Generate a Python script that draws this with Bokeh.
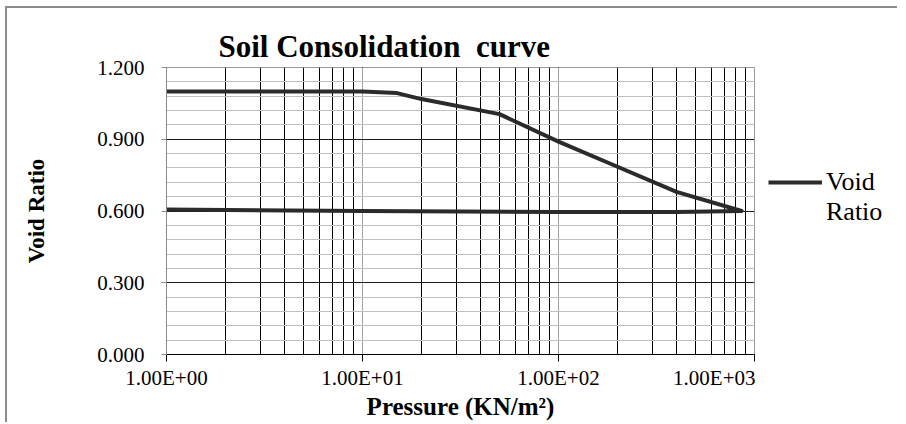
from bokeh.plotting import figure
from bokeh.layouts import row
from bokeh.models import (Range1d, LogTicker, SingleIntervalTicker, CustomJSTickFormatter,
                          PrintfTickFormatter, Legend, LegendItem)
from bokeh.embed import file_html
from bokeh.resources import INLINE

# Data (pressure kN/m², void ratio)
load_pressure = [1, 10, 15, 20, 50, 100, 200, 400, 860]
load_void = [1.100, 1.100, 1.093, 1.068, 1.005, 0.890, 0.785, 0.680, 0.600]
unload_pressure = [860, 400, 100, 10, 1]
unload_void = [0.600, 0.596, 0.596, 0.600, 0.606]

pressure = load_pressure + unload_pressure
void_ratio = load_void + unload_void

y_interval = 0.3
series_name = ["Void", "Ratio"]

FONT = "Liberation Serif"
LINE = "#2b2b2b"
H = 414

p = figure(width=748, height=H, x_axis_type="log",
           x_range=Range1d(1, 1000), y_range=Range1d(0, 1.2),
           output_backend="svg", toolbar_location=None,
           min_border_left=159, min_border_right=1,
           min_border_top=59, min_border_bottom=66,
           background_fill_color="white", border_fill_color="white")

p.title.text = "Soil Consolidation\u00a0 curve"
p.title.text_font = FONT
p.title.text_font_size = "31px"
p.title.text_font_style = "bold"
p.title.text_color = "black"
p.title.align = "left"
p.title.offset = 52
p.title.standoff = 7

p.outline_line_color = "#9a9a9a"

# x axis
p.xaxis.ticker = LogTicker(num_minor_ticks=10, desired_num_ticks=4)
p.xaxis.formatter = CustomJSTickFormatter(code="""
const s = tick.toExponential(2).toUpperCase();
return s.replace(/E([+-])(\\d)$/, (m, a, b) => "E" + a + "0" + b);
""")
p.xaxis.axis_label = "Pressure (KN/m²)"
p.xaxis.axis_line_color = "black"
p.xaxis.major_tick_line_color = "black"
p.xaxis.major_tick_out = 7
p.xaxis.major_tick_in = 0
p.xaxis.minor_tick_line_color = None
p.xaxis.major_label_standoff = 4
p.xaxis.axis_label_standoff = 0

# y axis
p.yaxis.ticker = SingleIntervalTicker(interval=y_interval, num_minor_ticks=5)
p.yaxis.formatter = PrintfTickFormatter(format="%.3f")
p.yaxis.axis_label = "Void Ratio"
p.yaxis.axis_line_color = "#8c8c8c"
p.yaxis.major_tick_line_color = "#8c8c8c"
p.yaxis.major_tick_out = 5
p.yaxis.major_tick_in = 0
p.yaxis.minor_tick_line_color = None
p.yaxis.major_label_standoff = 17
p.yaxis.axis_label_standoff = 45

for ax in (p.xaxis, p.yaxis):
    ax.major_label_text_font = FONT
    ax.major_label_text_font_size = "21px"
    ax.major_label_text_color = "black"
    ax.axis_label_text_font = FONT
    ax.axis_label_text_font_style = "bold"
    ax.axis_label_text_color = "black"
p.xaxis.axis_label_text_font_size = "25px"
p.yaxis.axis_label_text_font_size = "23px"

# grids
p.xgrid.grid_line_color = "#a0a0a0"
p.xgrid.minor_grid_line_color = "#000000"
p.ygrid.grid_line_color = "#1a1a1a"
p.ygrid.minor_grid_line_color = "#c0c0c0"

p.line(pressure, void_ratio, line_color=LINE, line_width=4, line_join="round", line_cap="round")

# legend area to the right of the chart (its own line lies outside its empty ranges)
q = figure(width=142, height=H, x_range=Range1d(-2, -1), y_range=Range1d(-2, -1),
           output_backend="svg", toolbar_location=None,
           x_axis_location=None, y_axis_location=None,
           min_border=0, outline_line_color=None,
           background_fill_color="white", border_fill_color="white")
q.grid.visible = False
key_line = q.line(pressure, void_ratio, line_color=LINE, line_width=4)
blank = q.line(pressure, void_ratio, line_alpha=0)

legend = Legend(items=[LegendItem(label=series_name[0], renderers=[key_line]),
                       LegendItem(label=series_name[1], renderers=[blank])],
                location=(13, 127), orientation="vertical",
                border_line_color=None, background_fill_alpha=0,
                padding=0, margin=0, spacing=-4,
                glyph_width=54, glyph_height=24, label_height=24, label_standoff=4,
                label_text_font=FONT, label_text_font_size="26px",
                label_text_color="black")
q.add_layout(legend)

layout = row(p, q, spacing=0)
layout.styles = {"border-top": "2px solid #8c8c8c", "border-left": "2px solid #8c8c8c",
                 "margin-left": "5px", "margin-top": "6px"}

open("out.html", "w").write(file_html(layout, INLINE))
